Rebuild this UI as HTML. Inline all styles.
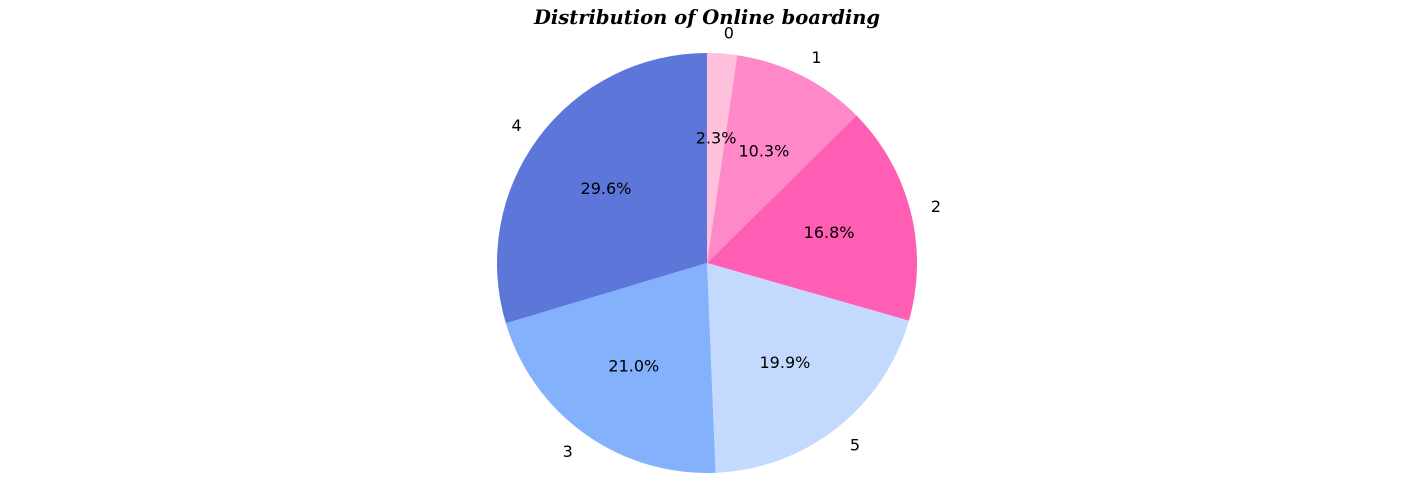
<!DOCTYPE html>
<html><head><meta charset="utf-8"><style>
body{margin:0;background:#fff;}
svg{display:block;}
text{font-family:"DejaVu Sans","Liberation Sans",sans-serif;font-size:16px;fill:#000;}
</style></head><body>
<svg id="chart" width="1415" height="504">
<text x="707" y="24" text-anchor="middle" style="font-family:'DejaVu Serif','Liberation Serif',serif;font-weight:bold;font-style:italic;font-size:19.5px;">Distribution of Online boarding</text>
<g id="slices"></g>
<g id="labels"></g>
</svg>
<script>
const categories = ["0","1","2","5","3","4"];
const values = [2.3,10.3,16.8,19.9,21.0,29.6];
const colors = ["#ffc0dc","#ff88c8","#ff5eb5","#c3dafe","#83b1fc","#5c77d9"];
const cx=707, cy=263, r=210;
const total = values.reduce((a,b)=>a+b,0);
const g=document.getElementById('slices');
const gl=document.getElementById('labels');
const NS="http://www.w3.org/2000/svg";
function pt(deg, rad){const a=deg*Math.PI/180;return [cx+rad*Math.sin(a), cy-rad*Math.cos(a)];}
let ang=0;
values.forEach((v,i)=>{
  const sweep=v/total*360;
  const a0=ang, a1=ang+sweep;
  const p0=pt(a0,r), p1=pt(a1,r);
  const path=document.createElementNS(NS,'path');
  path.setAttribute('d',`M${cx},${cy} L${p0[0]},${p0[1]} A${r},${r} 0 ${sweep>180?1:0} 1 ${p1[0]},${p1[1]} Z`);
  path.setAttribute('fill',colors[i]);
  
  
  g.appendChild(path);
  const mid=(a0+a1)/2;
  const s=Math.sin(mid*Math.PI/180);
  const lp=pt(mid,r*1.1);
  const lt=document.createElementNS(NS,'text');
  lt.setAttribute('x',lp[0]);lt.setAttribute('y',lp[1]+6);
  lt.setAttribute('text-anchor',s>0.01?'start':(s<-0.01?'end':'middle'));
  lt.textContent=categories[i];
  
  
  gl.appendChild(lt);
  const pp=pt(mid,r*0.6);
  const pt2=document.createElementNS(NS,'text');
  pt2.setAttribute('x',pp[0]);pt2.setAttribute('y',pp[1]+6);
  pt2.setAttribute('text-anchor','middle');
  pt2.textContent=v.toFixed(1)+'%';
  
  
  gl.appendChild(pt2);
  ang=a1;
});
</script>
</body></html>
